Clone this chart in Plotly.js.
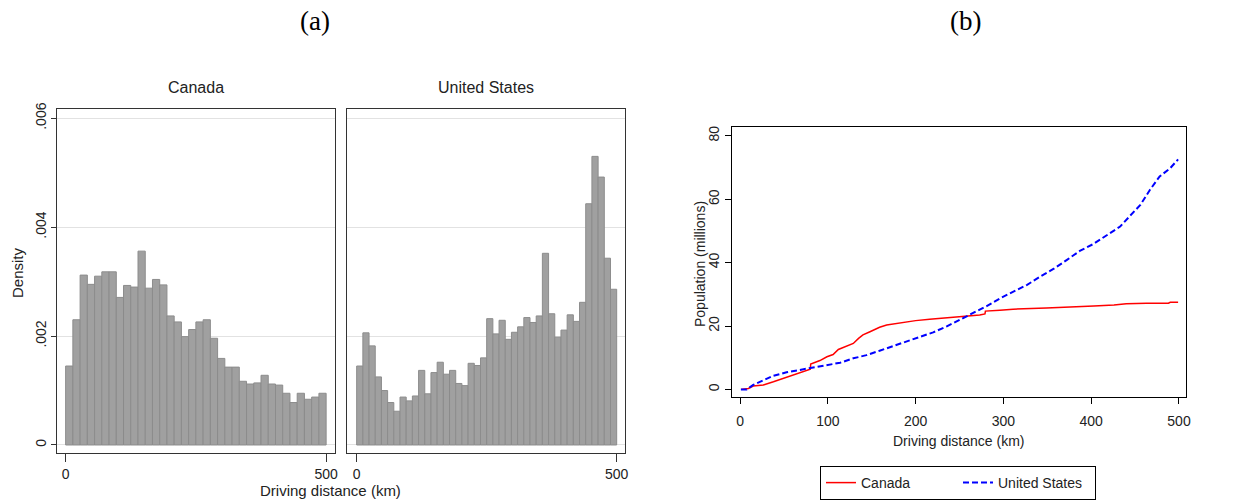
<!DOCTYPE html>
<html>
<head>
<meta charset="utf-8">
<script src="https://cdn.plot.ly/plotly-3.0.1.min.js"></script>
<style>html,body{margin:0;padding:0;background:#fff;}#chart{width:1240px;height:500px;}</style>
</head>
<body>
<div id="chart"></div>
<script>
// ---- Data ----
const histRangeMax = 500; // km, histogram range
const canadaDensity = [0.00145, 0.0023, 0.00312, 0.00295, 0.0031, 0.00318, 0.00318, 0.00271, 0.00293, 0.0029,
  0.00356, 0.00288, 0.00304, 0.00294, 0.00237, 0.00226, 0.00199, 0.00212, 0.00226, 0.0023,
  0.00196, 0.00159, 0.00143, 0.00143, 0.00117, 0.00112, 0.00114, 0.00128, 0.00112, 0.0011,
  0.00095, 0.00078, 0.00095, 0.00084, 0.00088, 0.00095];
const usDensity = [0.00145, 0.00206, 0.00182, 0.00125, 0.001, 0.00078, 0.00062, 0.00088, 0.00081, 0.0009,
  0.00137, 0.00094, 0.00133, 0.00152, 0.0013, 0.00137, 0.00113, 0.00109, 0.0015, 0.00146,
  0.0016, 0.00232, 0.00204, 0.00229, 0.00194, 0.00207, 0.00217, 0.00234, 0.00225, 0.00237,
  0.00352, 0.00241, 0.00198, 0.00211, 0.00239, 0.00227, 0.00262, 0.00443, 0.0053, 0.00492,
  0.00343, 0.00286];

const canadaDist = [1, 9.5, 15, 26.6, 38, 49, 61, 72, 80, 80.5, 91, 99, 106, 112, 121, 129, 135, 140, 148, 159,
  167, 178, 190, 200, 216, 235, 254, 273, 279, 279.5, 296, 311, 349, 388, 403, 426, 440, 463, 488, 490, 499];
const canadaPop = [0, 0.3, 1.05, 1.4, 2.4, 3.5, 4.5, 5.6, 6.4, 8.0, 9.1, 10.3, 11, 12.6, 13.5, 14.5, 16.1, 17.2, 18.2, 19.6,
  20.3, 20.8, 21.4, 21.7, 22.1, 22.5, 22.9, 23.5, 23.8, 24.7, 25.0, 25.3, 25.7, 26.0, 26.3, 26.6, 27.05, 27.2, 27.2, 27.5, 27.5];
const usDist = [1, 7.6, 15, 26.6, 38, 53, 68, 83.5, 99, 114, 129, 144, 159, 175, 190, 205, 220, 235, 250, 266,
  281, 296, 311, 327, 342, 357, 372, 387, 402, 417, 433, 444, 456, 467, 478, 490, 499];
const usPop = [0, 0, 1.4, 2.9, 4.3, 5.4, 6.1, 6.8, 7.7, 8.4, 9.8, 10.8, 12.2, 13.7, 15.2, 16.6, 18.0, 19.8, 21.9, 24.0,
  26.3, 28.7, 30.8, 33.0, 35.6, 38.0, 40.8, 43.7, 45.8, 48.4, 51.4, 54.7, 58.2, 63.0, 67.2, 69.8, 72.6];

const densTickVals = [0, 0.002, 0.004, 0.006];
const densTickText = ['0', '.002', '.004', '.006'];
const histTickVals = [0, 500];
const popTickVals = [0, 20, 40, 60, 80];
const distTickVals = [0, 100, 200, 300, 400, 500];

// ---- Helpers ----
function binCenters(n) {
  const w = histRangeMax / n;
  return Array.from({length: n}, (_, i) => (i + 0.5) * w);
}
const W = 1240, H = 500;
const px = v => v / W;
const py = v => 1 - v / H;

const barStyle = {color: '#a0a0a0', line: {color: '#8c8c8c', width: 1}};
const font = 'Liberation Sans, Arial, sans-serif';

const traces = [
  {type: 'bar', x: binCenters(canadaDensity.length), y: canadaDensity, width: histRangeMax / canadaDensity.length,
   marker: barStyle, xaxis: 'x', yaxis: 'y', showlegend: false, hoverinfo: 'skip'},
  {type: 'bar', x: binCenters(usDensity.length), y: usDensity, width: histRangeMax / usDensity.length,
   marker: barStyle, xaxis: 'x2', yaxis: 'y2', showlegend: false, hoverinfo: 'skip'},
  {type: 'scatter', mode: 'lines', name: 'Canada', x: canadaDist, y: canadaPop,
   line: {color: '#ff0000', width: 1.5}, xaxis: 'x3', yaxis: 'y3'},
  {type: 'scatter', mode: 'lines', name: 'United States', x: usDist, y: usPop,
   line: {color: '#0000ff', width: 2, dash: '6px,3px'}, xaxis: 'x3', yaxis: 'y3'}
];

const frame = {showline: true, mirror: true, linecolor: '#333', linewidth: 1, zeroline: false};
const histY = {range: [-0.000147, 0.00617], showgrid: true, gridcolor: '#e2e2e2', gridwidth: 1, tickvals: densTickVals};
function ann(text, x, y, size, extra) {
  return Object.assign({text: text, x: px(x), y: py(y), xref: 'paper', yref: 'paper', showarrow: false,
    xanchor: 'center', yanchor: 'middle', font: {size: size}}, extra || {});
}
const serif = {family: 'Liberation Serif, DejaVu Serif, serif', size: 27, color: '#000'};
const layout = {
  width: W, height: H,
  margin: {l: 0, r: 0, t: 0, b: 0, autoexpand: false},
  paper_bgcolor: '#fff', plot_bgcolor: '#fff',
  font: {family: font, color: '#222', size: 14},
  bargap: 0,
  xaxis: Object.assign({}, frame, {domain: [px(57.3), px(335)], range: [-16, 517], tickvals: histTickVals,
    ticks: 'outside', ticklen: 8, tickcolor: '#333', showgrid: false, anchor: 'y', tickfont: {size: 14}}),
  yaxis: Object.assign({}, frame, histY, {domain: [py(453), py(109)], ticktext: densTickText,
    ticks: 'outside', ticklen: 5, tickcolor: '#333', tickangle: -90, anchor: 'x', tickfont: {size: 14}}),
  xaxis2: Object.assign({}, frame, {domain: [px(347), px(625)], range: [-18.6, 516], tickvals: histTickVals,
    ticks: 'outside', ticklen: 8, tickcolor: '#333', showgrid: false, anchor: 'y2', tickfont: {size: 14}}),
  yaxis2: Object.assign({}, frame, histY, {domain: [py(453), py(109)], showticklabels: false, ticks: '', anchor: 'x2'}),
  xaxis3: Object.assign({}, frame, {domain: [px(731.7), px(1186)], range: [-9.5, 508], tickvals: distTickVals,
    ticks: 'outside', ticklen: 6, ticklabelstandoff: 5, tickcolor: '#000', linecolor: '#000', showgrid: false, anchor: 'y3', tickfont: {size: 14}}),
  yaxis3: Object.assign({}, frame, {domain: [py(397.3), py(126.7)], range: [-2.5, 82.9], tickvals: popTickVals,
    ticks: 'outside', ticklen: 6, tickcolor: '#000', linecolor: '#000', showgrid: false, tickangle: -90, anchor: 'x3', tickfont: {size: 14}}),
  showlegend: true,
  legend: {orientation: 'h', x: px(958), xanchor: 'center', y: py(466), yanchor: 'top',
    bordercolor: '#000', borderwidth: 1, bgcolor: '#fff', font: {size: 14, family: font},
    entrywidth: 92, entrywidthmode: 'pixels', tracegroupgap: 0},
  annotations: [
    ann('(a)', 315, 21, 27, {font: serif}),
    ann('(b)', 965, 21, 27, {font: serif}),
    ann('Canada', 196, 88, 16),
    ann('United States', 486, 88, 16),
    ann('Density', 17, 273, 15, {textangle: -90}),
    ann('Driving distance (km)', 330, 490, 15),
    ann('Driving distance (km)', 958, 441, 14),
    ann('Population (millions)', 700, 264, 14, {textangle: -90})
  ]
};

Plotly.newPlot('chart', traces, layout, {staticPlot: true, displayModeBar: false});
</script>
</body>
</html>
